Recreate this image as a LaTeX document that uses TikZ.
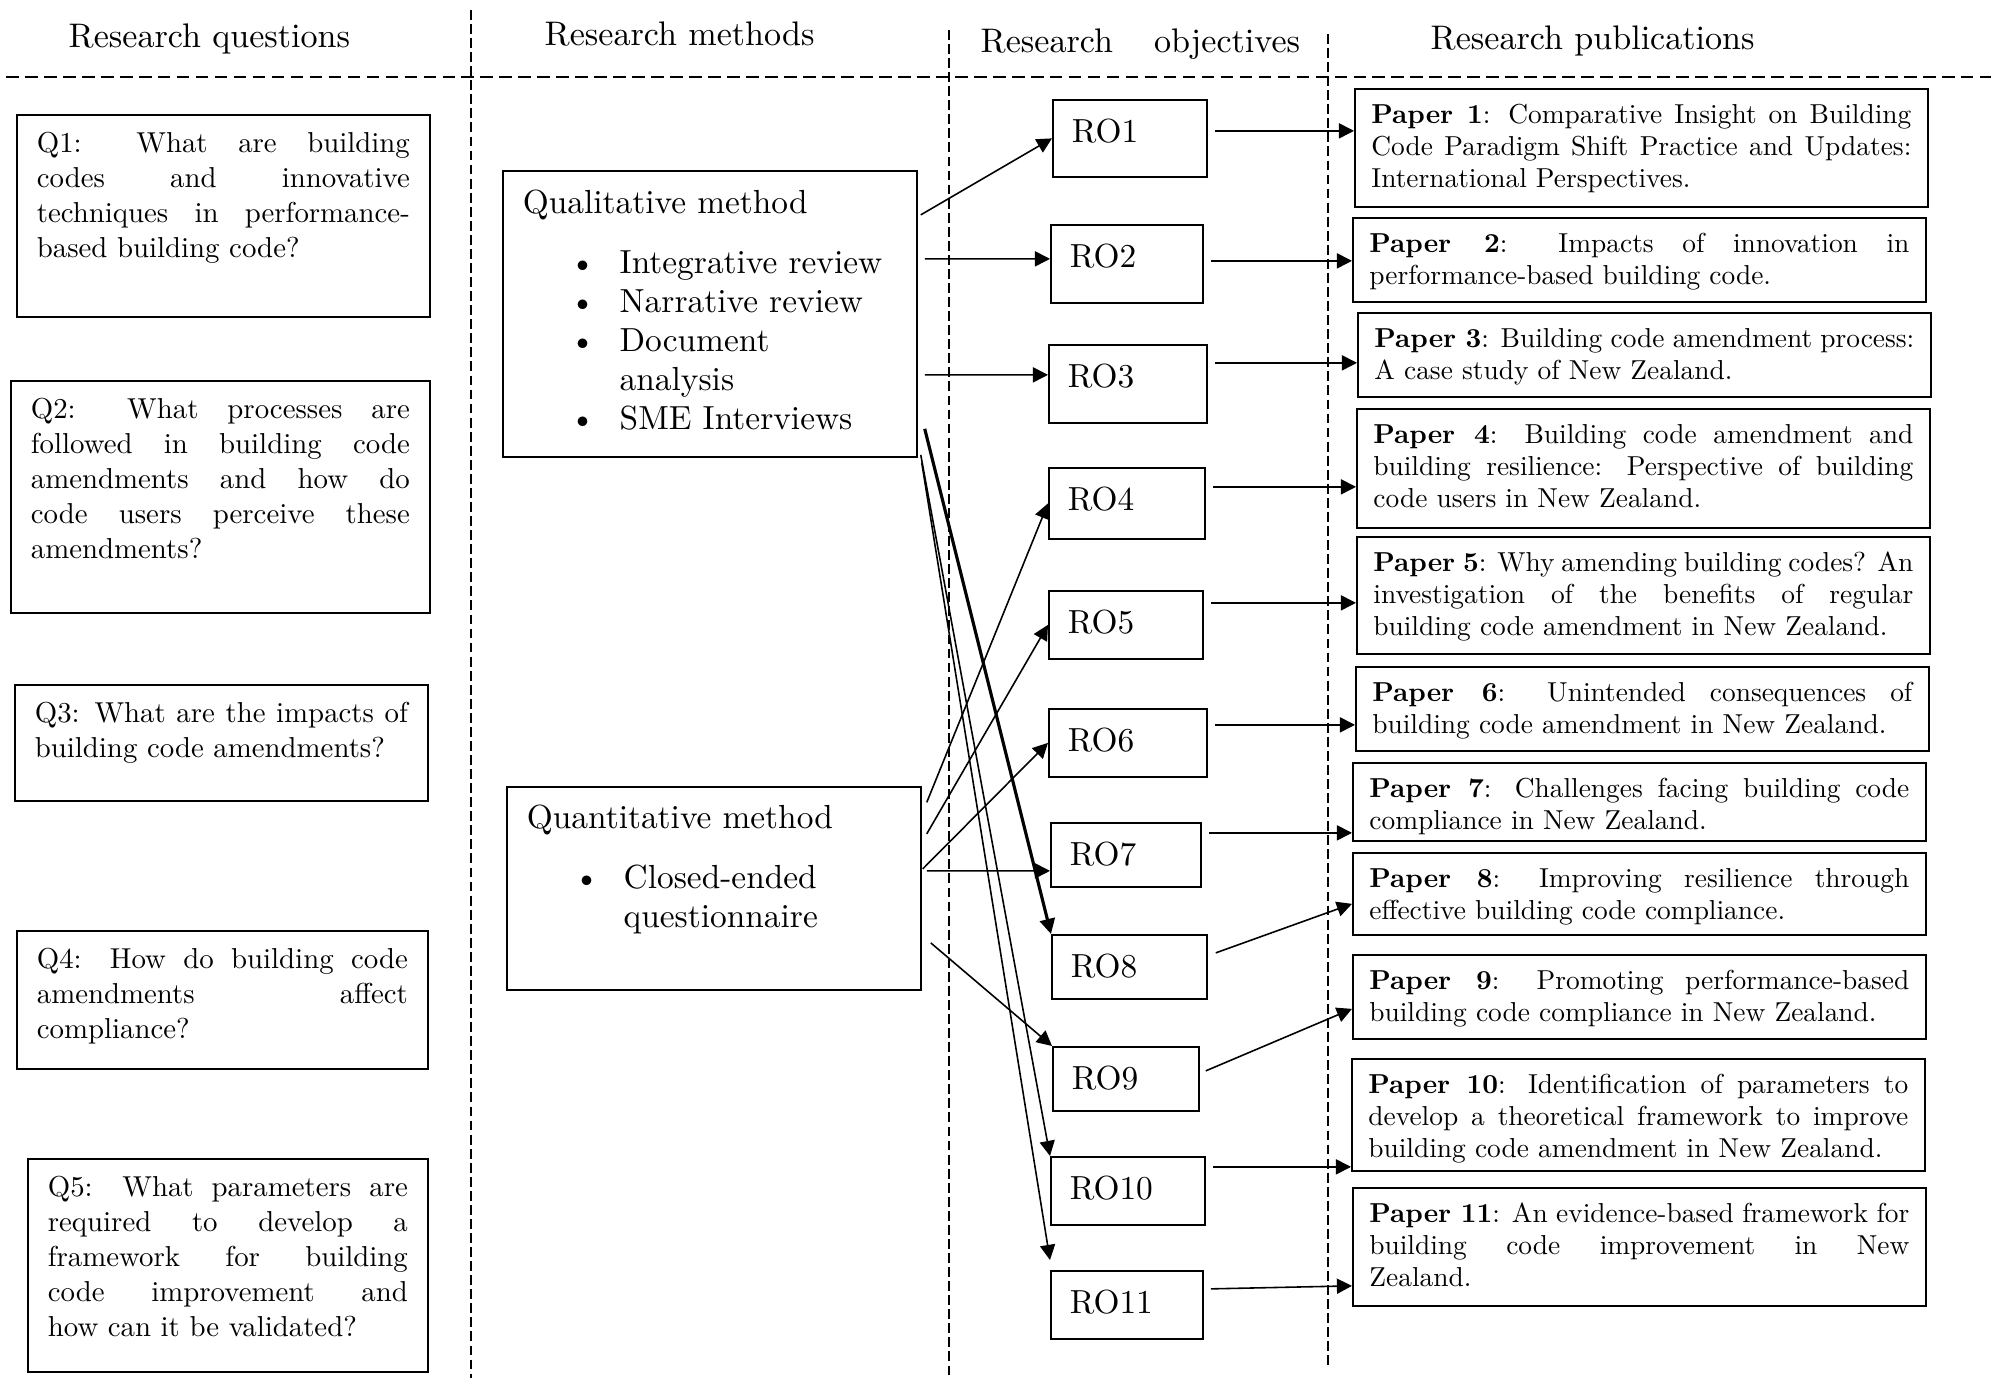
\documentclass[tikz,border=0pt]{standalone}
\usepackage{fontspec}
\setmainfont{lmroman10-regular.otf}[BoldFont=lmroman10-bold.otf]
\usetikzlibrary{arrows.meta}
\tolerance=10000
\hbadness=10000
\newcommand{\bul}{\makebox[2.9em][l]{\hspace{1.4em}\textbullet}}

\begin{document}
\begin{tikzpicture}[
		colhead/.style={anchor=base west, inner sep=0pt, font=\fontsize{9.7}{11.1}\selectfont},
		qbox/.style={draw, line width=0.5pt, anchor=north west, align=justify, inner xsep=0.2cm, inner ysep=0pt, text height=0.38cm, font=\fontsize{8.2}{9.95}\selectfont},
		mbox/.style={draw, line width=0.5pt, anchor=north west, align=left, text width=3.74cm, inner xsep=0.2cm, inner ysep=0pt, font=\fontsize{9.5}{11.1}\selectfont},
		robox/.style={draw, line width=0.5pt, anchor=north west, align=left, inner xsep=0.19cm, inner ysep=0pt, text height=0.43cm, font=\fontsize{9.5}{11.1}\selectfont},
		pbox/.style={draw, line width=0.5pt, anchor=north west, align=justify, text width=5.40cm, inner xsep=0.165cm, inner ysep=0pt, text height=0.35cm, font=\fontsize{7.8}{9}\selectfont},
		arr/.style={-{Triangle[length=4.3pt, width=4.3pt]}, line width=0.45pt},
		divider/.style={line width=0.4pt, dash pattern=on 2.8pt off 1.2pt}
		]
		\useasboundingbox (0,0) rectangle (19.91,-13.78);
		
		% ==========================================
		% Column headings and dividers
		% ==========================================
		\node[colhead] (hq) at (0.68,-0.475) {Research questions};
		\node[colhead] (hm) at (5.44,-0.455) {Research methods};
		\node[colhead] (ho) at (9.80,-0.53) {Research\hspace{0.41cm}objectives};
		\node[colhead] (hp) at (14.30,-0.50) {Research publications};
		
		\draw[divider, line width=0.5pt, dash pattern=on 3.6pt off 1.8pt] (0.06,-0.77) -- (19.91,-0.77);
		\draw[divider] (4.71,-0.10) -- (4.71,-13.78);
		\draw[divider] (9.49,-0.30) -- (9.49,-13.78);
		\draw[divider] (13.28,-0.34) -- (13.28,-13.65);
		
		% ==========================================
		% 1. Research questions
		% ==========================================
		\node[qbox, text width=3.73cm, text depth=1.64cm] (q1) at (0.16,-1.14)
		{Q1: What are building\linebreak codes and innovative\linebreak techniques in performance-\linebreak based building code?};
		\node[qbox, text width=3.79cm, text depth=1.94cm] (q2) at (0.10,-3.80)
		{Q2: What processes are\linebreak followed in building code\linebreak amendments and how do\linebreak code users perceive these\linebreak amendments?};
		\node[qbox, text width=3.73cm, text depth=0.78cm] (q3) at (0.14,-6.84)
		{Q3: What are the impacts of\linebreak building code amendments?};
		\node[qbox, text width=3.71cm, text depth=1.00cm] (q4) at (0.16,-9.30)
		{Q4: How do building code\linebreak amendments affect\linebreak compliance?};
		\node[qbox, text width=3.60cm, text depth=1.75cm] (q5) at (0.27,-11.58)
		{Q5: What parameters are\linebreak required to develop a\linebreak framework for building\linebreak code improvement and\linebreak how can it be validated?};
		
		% ==========================================
		% 2. Research methods
		% ==========================================
		\node[mbox, text height=0.43cm, text depth=2.43cm] (qual) at (5.02,-1.70)
		{Qualitative method\\[0.21cm]
			\bul Integrative review\\
			\bul Narrative review\\
			\bul Document\\
			\hspace*{2.9em}analysis\\
			\bul SME Interviews};
		\node[mbox, text height=0.415cm, text depth=1.615cm] (quant) at (5.06,-7.86)
		{Quantitative method\\[0.21cm]
			\bul Closed-ended\\
			\hspace*{2.9em}questionnaire};
		
		% ==========================================
		% 3. Research objectives
		% ==========================================
		\node[robox, text width=1.16cm, text depth=0.34cm] (ro1) at (10.52,-0.99) {RO1};
		\node[robox, text width=1.14cm, text depth=0.35cm] (ro2) at (10.50,-2.24) {RO2};
		\node[robox, text width=1.20cm, text depth=0.35cm] (ro3) at (10.48,-3.44) {RO3};
		\node[robox, text width=1.18cm, text depth=0.28cm] (ro4) at (10.48,-4.67) {RO4};
		\node[robox, text width=1.16cm, text depth=0.25cm] (ro5) at (10.48,-5.90) {RO5};
		\node[robox, text width=1.20cm, text depth=0.25cm] (ro6) at (10.48,-7.08) {RO6};
		\node[robox, text width=1.12cm, text depth=0.21cm] (ro7) at (10.50,-8.22) {RO7};
		\node[robox, text width=1.17cm, text depth=0.21cm] (ro8) at (10.51,-9.34) {RO8};
		\node[robox, text width=1.08cm, text depth=0.21cm] (ro9) at (10.52,-10.46) {RO9};
		\node[robox, text width=1.16cm, text depth=0.25cm] (ro10) at (10.50,-11.56) {RO10};
		\node[robox, text width=1.14cm, text depth=0.25cm] (ro11) at (10.50,-12.70) {RO11};
		
		% ==========================================
		% 4. Research publications
		% ==========================================
		\node[pbox, text depth=0.83cm] (p1) at (13.54,-0.88)
		{\textbf{Paper 1}: Comparative Insight on Building\linebreak Code Paradigm Shift Practice and Updates:\linebreak International Perspectives.};
		\node[pbox, text depth=0.49cm] (p2) at (13.52,-2.17)
		{\textbf{Paper 2}: Impacts of innovation in\linebreak performance-based building code.};
		\node[pbox, text depth=0.49cm] (p3) at (13.57,-3.12)
		{\textbf{Paper 3}: Building code amendment process:\linebreak A case study of New Zealand.};
		\node[pbox, text depth=0.84cm] (p4) at (13.56,-4.08)
		{\textbf{Paper 4}: Building code amendment and\linebreak building resilience: Perspective of building\linebreak code users in New Zealand.};
		\node[pbox, text depth=0.82cm] (p5) at (13.56,-5.36)
		{\textbf{Paper 5}: Why amending building codes? An\linebreak investigation of the benefits of regular\linebreak building code amendment in New Zealand.};
		\node[pbox, text depth=0.49cm] (p6) at (13.55,-6.66)
		{\textbf{Paper 6}: Unintended consequences of\linebreak building code amendment in New Zealand.};
		\node[pbox, text depth=0.43cm] (p7) at (13.52,-7.62)
		{\textbf{Paper 7}: Challenges facing building code\linebreak compliance in New Zealand.};
		\node[pbox, text depth=0.47cm] (p8) at (13.52,-8.52)
		{\textbf{Paper 8}: Improving resilience through\linebreak effective building code compliance.};
		\node[pbox, text depth=0.49cm] (p9) at (13.52,-9.54)
		{\textbf{Paper 9}: Promoting performance-based\linebreak building code compliance in New Zealand.};
		\node[pbox, text depth=0.77cm] (p10) at (13.51,-10.58)
		{\textbf{Paper 10}: Identification of parameters to\linebreak develop a theoretical framework to improve\linebreak building code amendment in New Zealand.};
		\node[pbox, text depth=0.83cm] (p11) at (13.52,-11.87)
		{\textbf{Paper 11}: An evidence-based framework for\linebreak building code improvement in New\linebreak Zealand.};
		
		% ==========================================
		% Methods to objectives
		% ==========================================
		\draw[arr] ([xshift=0.03cm, yshift=0.99cm]qual.east) -- (ro1.west);
		\draw[arr] ([xshift=0.07cm, yshift=0.55cm]qual.east) -- ([yshift=0.05cm]ro2.west);
		\draw[arr] ([xshift=0.07cm, yshift=-0.61cm]qual.east) -- ([yshift=0.09cm]ro3.west);
		\draw[arr, line width=0.9pt] ([xshift=0.07cm, yshift=-1.15cm]qual.east) -- (ro8.north west);
		\draw[arr] ([xshift=0.03cm, yshift=-1.41cm]qual.east) -- (ro10.north west);
		\draw[arr] ([xshift=0.04cm, yshift=-1.49cm]qual.east) -- ([yshift=0.1cm]ro11.north west);
		
		\draw[arr] ([xshift=0.05cm, yshift=0.86cm]quant.east) -- (ro4.west);
		\draw[arr] ([xshift=0.05cm, yshift=0.545cm]quant.east) -- (ro5.west);
		\draw[arr] ([xshift=0.01cm, yshift=0.195cm]quant.east) -- (ro6.west);
		\draw[arr] ([xshift=0.05cm, yshift=0.175cm]quant.east) -- ([yshift=-0.16cm]ro7.west);
		\draw[arr] ([xshift=0.09cm, yshift=-0.545cm]quant.east) -- (ro9.north west);
		
		% ==========================================
		% Objectives to publications
		% ==========================================
		\draw[arr] ([xshift=0.07cm, yshift=0.075cm]ro1.east) -- ([yshift=0.075cm]ro1.east -| p1.west);
		\draw[arr] ([xshift=0.07cm, yshift=0.03cm]ro2.east) -- ([yshift=0.03cm]ro2.east -| p2.west);
		\draw[arr] ([xshift=0.07cm, yshift=0.21cm]ro3.east) -- ([yshift=0.21cm]ro3.east -| p3.west);
		\draw[arr] ([xshift=0.07cm, yshift=0.165cm]ro4.east) -- ([yshift=0.165cm]ro4.east -| p4.west);
		\draw[arr] ([xshift=0.07cm, yshift=0.22cm]ro5.east) -- ([yshift=0.22cm]ro5.east -| p5.west);
		\draw[arr] ([xshift=0.07cm, yshift=0.18cm]ro6.east) -- ([yshift=0.18cm]ro6.east -| p6.west);
		\draw[arr] ([xshift=0.07cm, yshift=0.22cm]ro7.east) -- ([yshift=0.22cm]ro7.east -| p7.west);
		\draw[arr] ([shift={(0.08cm,0.14cm)}]ro8.east) -- ([yshift=-0.1cm]p8.west);
		\draw[arr] ([shift={(0.06cm,0.08cm)}]ro9.east) -- ([yshift=-0.12cm]p9.west);
		\draw[arr] ([xshift=0.07cm, yshift=0.24cm]ro10.east) -- ([yshift=0.24cm]ro10.east -| p10.west);
		\draw[arr] ([shift={(0.07cm,0.16cm)}]ro11.east) -- ([yshift=-0.39cm]p11.west);
		
	\end{tikzpicture}
\end{document}
